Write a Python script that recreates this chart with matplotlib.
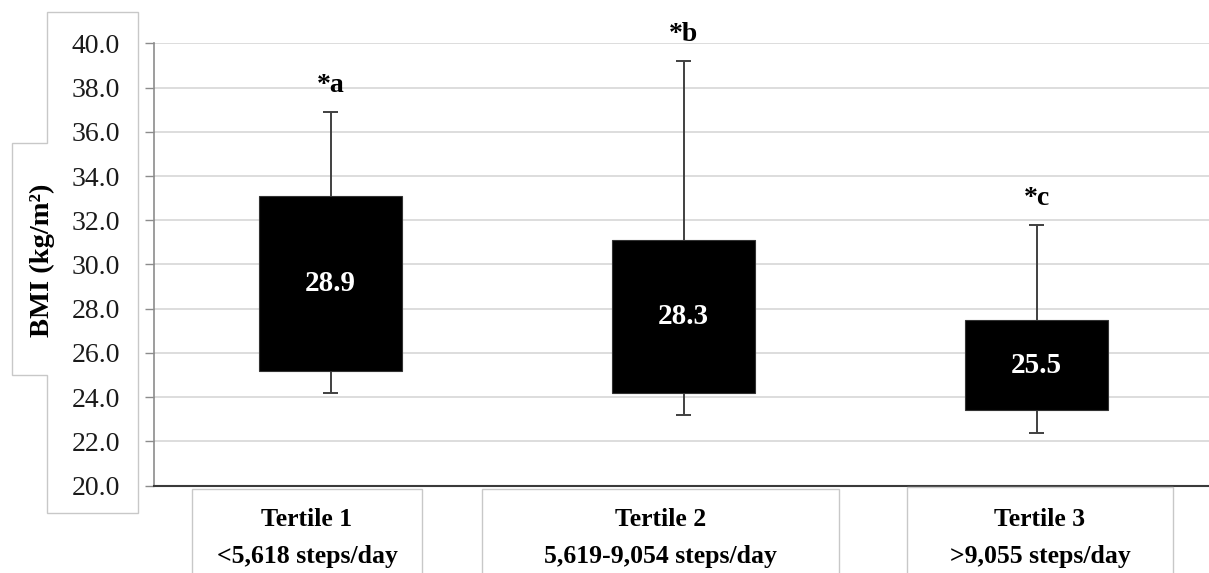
import matplotlib
matplotlib.use("Agg")
import matplotlib.pyplot as plt
from matplotlib.patches import Rectangle, Polygon

plt.rcParams['font.family'] = ['Liberation Serif', 'DejaVu Serif']

# ---- data ----
categories = ["Tertile 1", "Tertile 2", "Tertile 3"]
ranges = ["<5,618 steps/day", "5,619-9,054 steps/day", ">9,055 steps/day"]
q1 = [25.2, 24.2, 23.4]
q3 = [33.1, 31.1, 27.5]
whisker_low = [24.2, 23.2, 22.4]
whisker_high = [36.9, 39.2, 31.8]
medians = [28.9, 28.3, 25.5]
sig_labels = ["*a", "*b", "*c"]
yticks = [20.0, 22.0, 24.0, 26.0, 28.0, 30.0, 32.0, 34.0, 36.0, 38.0, 40.0]

W, H = 1209, 573
fig = plt.figure(figsize=(W / 100, H / 100), dpi=100)

def fx(px):
    return px / W

def fy(py):
    return 1 - py / H

ax_left, ax_top, ax_bottom = 154, 43.3, 485.7
ax = fig.add_axes([fx(ax_left), fy(ax_bottom), fx(W - ax_left), (ax_bottom - ax_top) / H])
step = 353.0
ax.set_xlim(-0.5, -0.5 + (W - ax_left) / step)
ax.set_ylim(20, 40)

# grid
for v in yticks[1:]:
    ax.axhline(v, color='#dadada', lw=1.3, zorder=0)

box_w = 0.405
cap_w = 0.04
for i in range(len(categories)):
    ax.vlines(i, q3[i], whisker_high[i], color='#404040', lw=1.4, zorder=2)
    ax.vlines(i, whisker_low[i], q1[i], color='#404040', lw=1.4, zorder=2)
    ax.hlines([whisker_high[i], whisker_low[i]], i - cap_w / 2, i + cap_w / 2,
              color='#404040', lw=1.4, zorder=2)
    ax.add_patch(Rectangle((i - box_w / 2, q1[i]), box_w, q3[i] - q1[i],
                           facecolor='black', edgecolor='#333333', lw=0.8, zorder=3))
    ax.text(i, (q1[i] + q3[i]) / 2, f"{medians[i]:.1f}", color='white',
            fontsize=21, fontweight='bold', ha='center', va='center', zorder=4)
    ax.annotate(sig_labels[i], (i, whisker_high[i]), xytext=(0, 10),
                textcoords='offset points', ha='center', va='bottom',
                fontsize=20, fontweight='bold', annotation_clip=False)

ax.set_yticks(yticks)
ax.set_yticklabels([f"{v:.1f}" for v in yticks], fontsize=20, color='#1a1a1a')
ax.tick_params(axis='y', direction='out', length=6.5, width=1, color='#8c8c8c', pad=18)
ax.set_xticks([])
for s in ['top', 'right']:
    ax.spines[s].set_visible(False)
ax.spines['left'].set_color('#8c8c8c')
ax.spines['left'].set_linewidth(1.2)
ax.spines['bottom'].set_color('#3a3a3a')
ax.spines['bottom'].set_linewidth(1.5)

# y-label box (union outline)
pts = [(12, 143), (47, 143), (47, 12), (138, 12), (138, 513), (47, 513), (47, 375), (12, 375)]
fig.patches.append(Polygon([(fx(x), fy(y)) for x, y in pts], closed=True,
                           transform=fig.transFigure, fill=False,
                           edgecolor='#c8c8c8', lw=1))
fig.text(fx(42), fy(260), "BMI (kg/m²)", rotation=90, ha='center', va='center',
         fontsize=20.5, fontweight='bold')

# x-label boxes
boxes = [(192, 489, 422), (482, 489, 839), (907, 487, 1173)]
for (x0, y0, x1), cat, rng in zip(boxes, categories, ranges):
    fig.patches.append(Rectangle((fx(x0), fy(H + 5)), fx(x1 - x0), (H + 5 - y0) / H,
                                 transform=fig.transFigure, fill=False,
                                 edgecolor='#c8c8c8', lw=1))
    cx = (x0 + x1) / 2
    fig.text(fx(cx), fy(520), cat, ha='center', va='center', fontsize=18.5, fontweight='bold')
    fig.text(fx(cx), fy(556), rng, ha='center', va='center', fontsize=18.5, fontweight='bold')

fig.savefig("out.png", dpi=100)
